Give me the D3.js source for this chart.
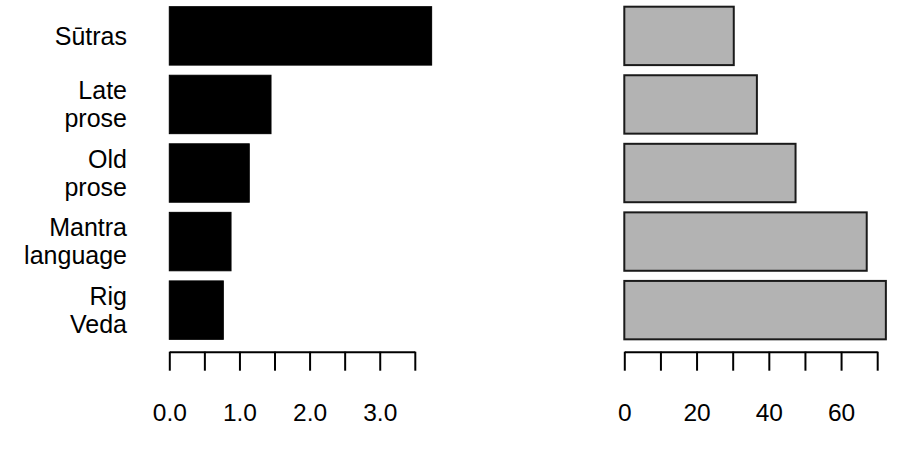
<!DOCTYPE html>
<html><head><meta charset="utf-8">
<script src="https://cdn.jsdelivr.net/npm/d3@7"></script>
<style>body{margin:0;background:#fff}svg{display:block}</style>
</head><body>
<svg id="c" width="917" height="467"></svg>
<script>
const categories = [["Sūtras"], ["Late", "prose"], ["Old", "prose"], ["Mantra", "language"], ["Rig", "Veda"]];
const leftValues = [3.74, 1.45, 1.14, 0.88, 0.77];
const rightValues = [30.3, 36.7, 47.4, 67.1, 72.4];
const leftTicks = [0, 0.5, 1, 1.5, 2, 2.5, 3, 3.5];
const leftTickLabels = ["0.0", "", "1.0", "", "2.0", "", "3.0", ""];
const rightTicks = [0, 10, 20, 30, 40, 50, 60, 70];
const rightTickLabels = ["0", "", "20", "", "40", "", "60", ""];

const svg = d3.select("#c");
const FONT = "'Liberation Sans', Arial, Helvetica, sans-serif";
const keys = categories.map(c => c.join(" "));

const y = d3.scaleBand().domain(keys).range([1.62, 344.4]).paddingInner(0.148).paddingOuter(0.074);
const xL = d3.scaleLinear().domain([0, 3.5]).range([169.3, 414.8]);
const xR = d3.scaleLinear().domain([0, 70]).range([624.3, 877.2]);

// left bars
svg.append("g").selectAll("rect").data(leftValues).join("rect")
  .attr("x", xL(0)).attr("y", (d, i) => y(keys[i]))
  .attr("width", d => xL(d) - xL(0)).attr("height", y.bandwidth())
  .attr("fill", "#000").attr("stroke", "#000").attr("stroke-width", 1);

// right bars
svg.append("g").selectAll("rect").data(rightValues).join("rect")
  .attr("x", xR(0)).attr("y", (d, i) => y(keys[i]))
  .attr("width", d => xR(d) - xR(0)).attr("height", y.bandwidth())
  .attr("fill", "#b3b3b3").attr("stroke", "#1a1a1a").attr("stroke-width", 2);

// category labels
const fs = 25, lh = 28;
const lab = svg.append("g").attr("font-family", FONT).attr("font-size", fs).attr("fill", "#000");
categories.forEach((lines, i) => {
  const cy = y(keys[i]) + y.bandwidth() / 2;
  const n = lines.length;
  lines.forEach((t, j) => {
    lab.append("text").attr("x", 127).attr("text-anchor", "end")
      .attr("y", cy + (j - (n - 1) / 2) * lh + 0.35 * fs).text(t);
  });
});

function drawAxis(scale, ticks, labels) {
  const ax = d3.axisBottom(scale).tickValues(ticks).tickSize(19).tickSizeOuter(0)
    .tickFormat((d, i) => labels[i]);
  const g = svg.append("g").attr("transform", "translate(0,351.7)").call(ax);
  g.select(".domain").attr("stroke", "#000").attr("stroke-width", 2);
  g.selectAll(".tick line").attr("stroke", "#000").attr("stroke-width", 2);
  g.selectAll(".tick text").attr("font-family", FONT).attr("font-size", 24.5)
    .attr("fill", "#000").attr("y", 51.6).attr("dy", "0.71em");
}
drawAxis(xL, leftTicks, leftTickLabels);
drawAxis(xR, rightTicks, rightTickLabels);
</script>
</body></html>
